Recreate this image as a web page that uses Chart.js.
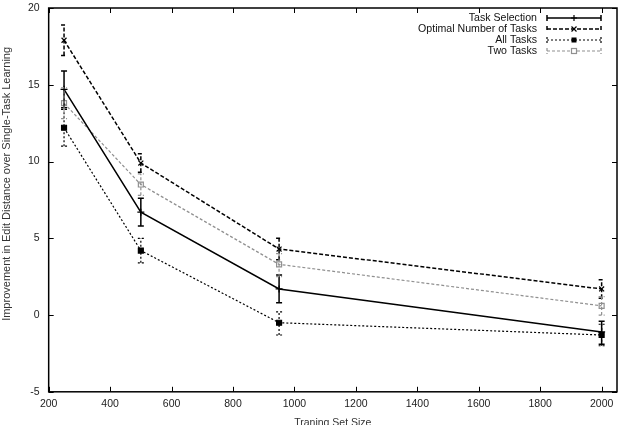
<!DOCTYPE html>
<html>
<head>
<meta charset="utf-8">
<script src="https://cdn.jsdelivr.net/npm/chart.js@4"></script>
<style>
  html, body { margin: 0; padding: 0; background: #fff; }
  #wrap { width: 625px; height: 425px; }
</style>
</head>
<body>
<div id="wrap"><canvas id="chart"></canvas></div>
<script>
// training set sizes
const sizes = [250, 500, 950, 2000];

const seriesNames = ['Task Selection', 'Optimal Number of Tasks', 'All Tasks', 'Two Tasks'];
const yTitle = 'Improvement in Edit Distance over Single-Task Learning';
const xTitle = 'Traning Set Size';

// mean improvement + error bar ends
const taskSel   = [14.7, 6.7, 1.7, -1.1];
const taskSelLo = [13.5, 5.8, 0.8, -1.9];
const taskSelHi = [15.9, 7.6, 2.6, -0.4];

const optimal   = [17.9, 9.9, 4.3, 1.7];
const optimalLo = [16.9, 9.3, 3.6, 1.1];
const optimalHi = [18.9, 10.5, 5.0, 2.3];

const allTasks   = [12.2, 4.2, -0.5, -1.3];
const allTasksLo = [11.0, 3.4, -1.3, -2.0];
const allTasksHi = [13.4, 5.0, 0.2, -0.6];

const twoTasks   = [13.8, 8.5, 3.3, 0.6];
const twoTasksLo = [12.8, 7.8, 2.5, 0.0];
const twoTasksHi = [14.8, 9.2, 4.0, 1.2];

const FONT = 'Liberation Sans, Arial, sans-serif';

function pts(vals) {
  return sizes.map((s, i) => ({ x: s, y: vals[i] }));
}

const styles = [
  { color: '#000', width: 1.5, dash: [], point: 'cross', fill: false },
  { color: '#000', width: 1.5, dash: [4, 2], point: 'crossRot', fill: false },
  { color: '#000', width: 1.2, dash: [2, 2], point: 'rect', fill: true },
  { color: '#909090', width: 1.2, dash: [3, 2], point: 'rect', fill: false }
];
const lows = [taskSelLo, optimalLo, allTasksLo, twoTasksLo];
const highs = [taskSelHi, optimalHi, allTasksHi, twoTasksHi];
const means = [taskSel, optimal, allTasks, twoTasks];

const datasets = means.map((m, i) => ({
  label: seriesNames[i],
  data: pts(m),
  showLine: true,
  borderColor: styles[i].color,
  borderWidth: styles[i].width,
  borderDash: styles[i].dash,
  pointStyle: styles[i].point,
  pointRadius: 3.5,
  pointBorderWidth: 1.2,
  pointBorderColor: styles[i].color,
  pointBackgroundColor: styles[i].fill ? styles[i].color : 'rgba(255,255,255,0)',
  errLo: lows[i],
  errHi: highs[i]
}));

// error bars, box, inward ticks, y title and the gnuplot-like key
const gnuplotBits = {
  id: 'gnuplotBits',
  afterDatasetsDraw(chart) {
    const c = chart.ctx;
    const xs = chart.scales.x, ys = chart.scales.y;
    chart.data.datasets.forEach((ds, i) => {
      const st = styles[i];
      c.save();
      c.strokeStyle = st.color;
      c.lineWidth = st.width;
      c.setLineDash(st.dash);
      ds.data.forEach((p, j) => {
        const px = xs.getPixelForValue(p.x);
        const lo = ys.getPixelForValue(ds.errLo[j]);
        const hi = ys.getPixelForValue(ds.errHi[j]);
        c.beginPath();
        c.moveTo(px, lo); c.lineTo(px, hi);
        c.moveTo(px - 3, lo); c.lineTo(px + 3, lo);
        c.moveTo(px - 3, hi); c.lineTo(px + 3, hi);
        c.stroke();
      });
      c.restore();
    });
  },
  afterDraw(chart) {
    const c = chart.ctx;
    const a = chart.chartArea;
    const xs = chart.scales.x, ys = chart.scales.y;
    c.save();
    c.strokeStyle = '#000';
    c.lineWidth = 1.5;
    c.setLineDash([]);
    c.strokeRect(a.left, a.top, a.right - a.left, a.bottom - a.top);
    c.lineWidth = 1;
    c.beginPath();
    xs.ticks.forEach(t => {
      const px = Math.round(xs.getPixelForValue(t.value)) + 0.5;
      c.moveTo(px, a.bottom); c.lineTo(px, a.bottom - 5);
      c.moveTo(px, a.top); c.lineTo(px, a.top + 5);
    });
    ys.ticks.forEach(t => {
      const py = Math.round(ys.getPixelForValue(t.value)) + 0.5;
      c.moveTo(a.left, py); c.lineTo(a.left + 5, py);
      c.moveTo(a.right, py); c.lineTo(a.right - 5, py);
    });
    c.stroke();

    // y axis title
    c.save();
    c.font = '11px ' + FONT;
    c.fillStyle = '#333';
    c.textAlign = 'center';
    c.textBaseline = 'middle';
    c.translate(7, (a.top + a.bottom) / 2 - 16);
    c.rotate(-Math.PI / 2);
    c.fillText(yTitle, 0, 0);
    c.restore();

    // key
    c.font = '10.6px ' + FONT;
    c.textAlign = 'right';
    c.textBaseline = 'middle';
    chart.data.datasets.forEach((ds, i) => {
      const st = styles[i];
      const y = a.top + 10 + i * 11;
      const x0 = a.right - 70, x1 = a.right - 16;
      c.fillStyle = '#111';
      c.fillText(ds.label, a.right - 80, y);
      c.strokeStyle = st.color;
      c.lineWidth = st.width;
      c.setLineDash(st.dash);
      c.beginPath();
      c.moveTo(x0, y); c.lineTo(x1, y);
      c.moveTo(x0, y - 3); c.lineTo(x0, y + 3);
      c.moveTo(x1, y - 3); c.lineTo(x1, y + 3);
      c.stroke();
      c.setLineDash([]);
      const mx = (x0 + x1) / 2;
      c.lineWidth = 1.2;
      c.beginPath();
      if (st.point === 'cross') {
        c.moveTo(mx - 3, y); c.lineTo(mx + 3, y);
        c.moveTo(mx, y - 3); c.lineTo(mx, y + 3);
        c.stroke();
      } else if (st.point === 'crossRot') {
        c.moveTo(mx - 2.5, y - 2.5); c.lineTo(mx + 2.5, y + 2.5);
        c.moveTo(mx - 2.5, y + 2.5); c.lineTo(mx + 2.5, y - 2.5);
        c.stroke();
      } else {
        if (st.fill) { c.fillStyle = st.color; c.fillRect(mx - 2.5, y - 2.5, 5, 5); }
        else { c.fillStyle = '#fff'; c.fillRect(mx - 2.5, y - 2.5, 5, 5); c.strokeRect(mx - 2.5, y - 2.5, 5, 5); }
      }
    });
    c.restore();
  }
};

Chart.defaults.font.family = FONT;
Chart.defaults.font.size = 10.5;
Chart.defaults.color = '#222';

new Chart(document.getElementById('chart'), {
  type: 'scatter',
  data: { datasets: datasets },
  options: {
    responsive: true,
    maintainAspectRatio: false,
    animation: false,
    layout: { padding: { top: 8, right: 8, left: 19, bottom: -4 } },
    plugins: { legend: { display: false }, tooltip: { enabled: false } },
    scales: {
      x: {
        type: 'linear',
        min: 200, max: 2050,
        grid: { display: false, drawTicks: false },
        border: { display: false },
        ticks: { stepSize: 200, includeBounds: false, maxRotation: 0, padding: 6,
                 callback: v => String(v) },
        title: { display: true, text: xTitle, color: '#333', padding: { top: 0, bottom: 0 } },
        afterFit(scale) { scale.paddingLeft = 0; scale.paddingRight = 0; }
      },
      y: {
        min: -5, max: 20,
        grid: { display: false, drawTicks: false },
        border: { display: false },
        ticks: { stepSize: 5, padding: 9, callback: v => String(v) },
        afterFit(scale) { scale.paddingTop = 0; scale.paddingBottom = 0; }
      }
    }
  },
  plugins: [gnuplotBits]
});
</script>
</body>
</html>
